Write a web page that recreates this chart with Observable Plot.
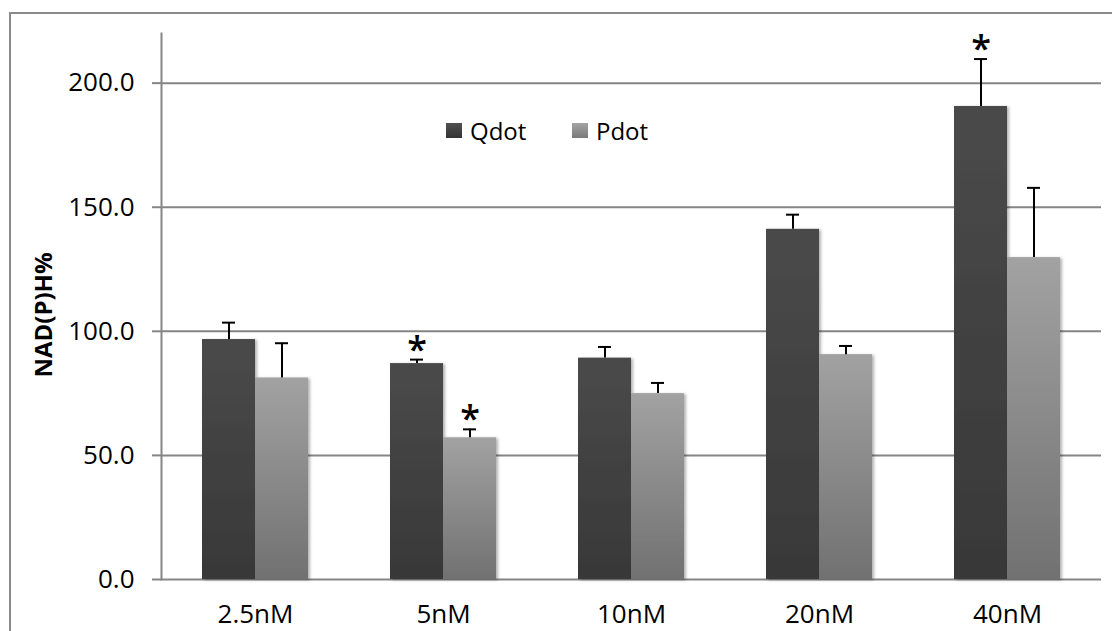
<!DOCTYPE html>
<html>
<head>
<meta charset="utf-8">
<script src="https://cdn.jsdelivr.net/npm/d3@7"></script>
<script src="https://cdn.jsdelivr.net/npm/@observablehq/plot@0.6"></script>
<style>
  html, body { margin: 0; padding: 0; background: #fff; }
  #wrap { position: relative; width: 1112px; height: 631px; overflow: hidden; font-family: "Open Sans", sans-serif; }
  #border { position: absolute; left: 9px; top: 12px; width: 1200px; height: 700px; border-left: 2px solid #8a8a8a; border-top: 2px solid #8a8a8a; }
  #ylabel { position: absolute; left: 42px; top: 315px; transform: translate(-50%, -50%) rotate(-90deg); font-weight: bold; font-size: 24px; color: #000; white-space: nowrap; }
  .legend { position: absolute; top: 114px; font-size: 24px; color: #000; display: flex; align-items: center; }
  .legend .sw { width: 16px; height: 15px; margin-right: 8px; }
  #chart { position: absolute; left: 0; top: 0; }
</style>
</head>
<body>
<div id="wrap">
  <div id="border"></div>
  <div id="chart"></div>
  <div id="ylabel">NAD(P)H%</div>
  <div class="legend" style="left:446px"><div class="sw" style="background:linear-gradient(#505050,#343434)"></div>Qdot</div>
  <div class="legend" style="left:572px"><div class="sw" style="background:linear-gradient(#a4a4a4,#7a7a7a)"></div>Pdot</div>
</div>
<script>
// Concentrations on the x axis
const categories = ["2.5nM", "5nM", "10nM", "20nM", "40nM"];
const series = ["Qdot", "Pdot"];

// NAD(P)H% means and upper error (SD)
const qdotValues = [96.7, 87.0, 89.2, 141.1, 190.6];
const qdotErrors = [6.8, 1.6, 4.5, 5.9, 19.1];
const pdotValues = [81.2, 57.1, 74.9, 90.6, 129.7];
const pdotErrors = [14.0, 3.4, 4.3, 3.5, 28.1];

// Significance markers (*)
const qdotSignificant = [false, true, false, false, true];
const pdotSignificant = [false, true, false, false, false];

const yTicks = [0, 50, 100, 150, 200];

const rows = [];
categories.forEach((cat, i) => {
  rows.push({cat, series: "Qdot", value: qdotValues[i], err: qdotErrors[i], sig: qdotSignificant[i]});
  rows.push({cat, series: "Pdot", value: pdotValues[i], err: pdotErrors[i], sig: pdotSignificant[i]});
});
const errTop = d => d.value + d.err;
const gridColor = "#858585";

const chart = Plot.plot({
  width: 1112,
  height: 631,
  marginLeft: 160,
  marginRight: 10,
  marginTop: 33,
  marginBottom: 52,
  style: {fontFamily: "'Open Sans', sans-serif", fontSize: "26px", color: "#000", background: "transparent", overflow: "visible"},
  fx: {domain: categories, padding: 0, label: null, tickSize: 0, tickPadding: 25},
  x: {domain: series, paddingInner: 0, paddingOuter: 0.76, axis: null},
  y: {domain: [0, 220], axis: null},
  marks: [
    Plot.gridY(yTicks, {stroke: gridColor, strokeOpacity: 1, strokeWidth: 2}),
    Plot.frame({anchor: "left", stroke: gridColor, strokeWidth: 2, facetAnchor: "left"}),
    Plot.axisY(yTicks, {tickFormat: d3.format(".1f"), tickSize: 9, tickPadding: 18, stroke: gridColor, strokeWidth: 2, label: null, fontSize: 26, fill: "#000"}),
    Plot.barY(rows.filter(d => d.series === "Qdot"), {fx: "cat", x: "series", y: "value", fill: "url(#gradQ)"}),
    Plot.barY(rows.filter(d => d.series === "Pdot"), {fx: "cat", x: "series", y: "value", fill: "url(#gradP)"}),
    Plot.ruleX(rows, {fx: "cat", x: "series", y1: "value", y2: errTop, stroke: "#000", strokeWidth: 2}),
    Plot.tickY(rows, {fx: "cat", x: "series", y: errTop, stroke: "#000", strokeWidth: 2, insetLeft: 20, insetRight: 20}),
    Plot.text(rows.filter(d => d.sig), {fx: "cat", x: "series", y: errTop, text: () => "*", fontSize: 36, fontWeight: 600, lineAnchor: "bottom", dy: 2, fill: "#000"})
  ]
});

// Bar gradients and soft shadow
const svg = d3.select(chart);
const defs = svg.insert("defs", ":first-child");
const grad = (id, c0, c1) => {
  const g = defs.append("linearGradient").attr("id", id).attr("x1", 0).attr("y1", 0).attr("x2", 0).attr("y2", 1);
  g.append("stop").attr("offset", "0%").attr("stop-color", c0);
  g.append("stop").attr("offset", "100%").attr("stop-color", c1);
};
grad("gradQ", "#4a4a4a", "#383838");
grad("gradP", "#a2a2a2", "#717171");
const f = defs.append("filter").attr("id", "shadow").attr("x", "-20%").attr("y", "-5%").attr("width", "140%").attr("height", "110%");
f.append("feDropShadow").attr("dx", 2).attr("dy", 1).attr("stdDeviation", 1.5).attr("flood-color", "#000").attr("flood-opacity", 0.3);
svg.selectAll("g[aria-label=bar] rect").attr("filter", "url(#shadow)");

document.getElementById("chart").appendChild(chart);
</script>
</body>
</html>
